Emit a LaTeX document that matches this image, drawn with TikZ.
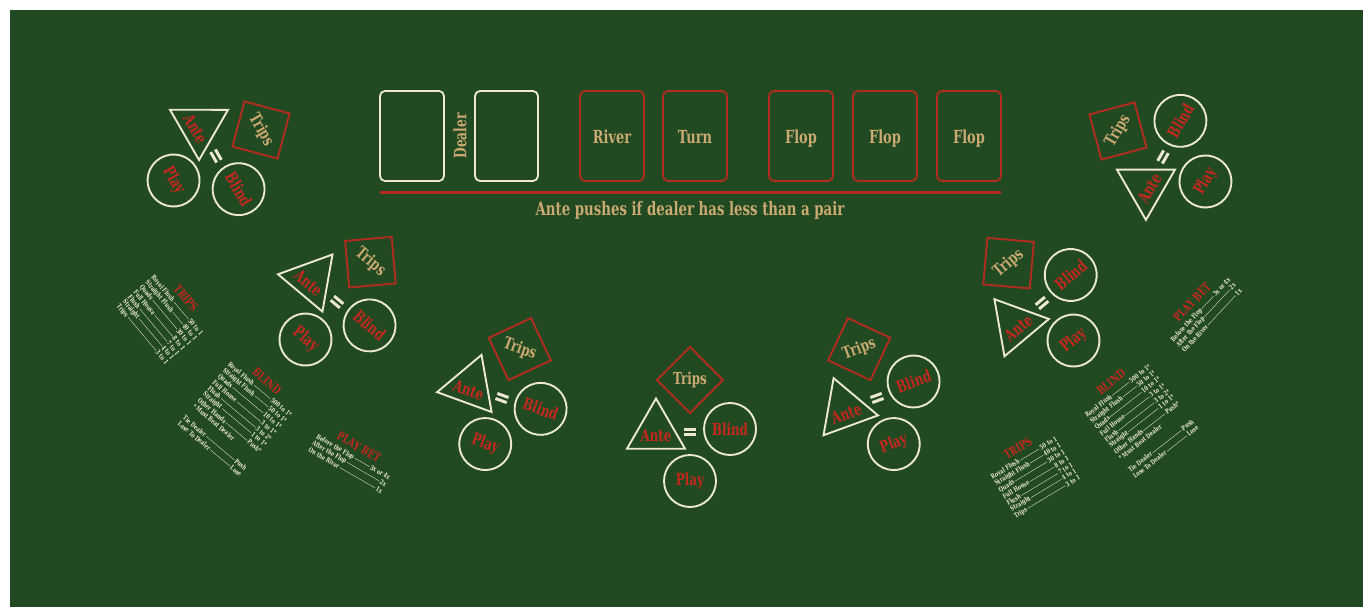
\documentclass[tikz,border=0pt]{standalone}
\usepackage{fontspec}
\newfontfamily\slab{DejaVu Serif}[FakeStretch=0.72]
\definecolor{felt}{RGB}{33,73,34}
\definecolor{rd}{RGB}{178,44,30}
\definecolor{rtext}{RGB}{196,40,28}
\definecolor{tanc}{RGB}{202,170,112}
\definecolor{cream}{RGB}{236,232,212}
\newcommand\prow[3]{\hbox to #1{#2\,\leaders\hrule height 2.3pt depth -1.95pt\hfill\,#3}}
\tikzset{
  cline/.style={draw=cream, line width=1.9pt},
  rline/.style={draw=rd, line width=1.9pt},
  rlbl/.style={font=\slab\bfseries\fontsize{16.5}{16.5}\selectfont, text=rtext, inner sep=0},
  tlbl/.style={font=\slab\bfseries\fontsize{16.5}{16.5}\selectfont, text=tanc, inner sep=0},
  cardlbl/.style={font=\slab\bfseries\fontsize{18}{18}\selectfont, text=tanc, inner sep=0, anchor=base},
  ttl/.style={font=\slab\bfseries\fontsize{12}{12}\selectfont, text=rtext, inner sep=0},
  prw/.style={font=\slab\bfseries\fontsize{6.8}{6.8}\selectfont, text=cream, inner sep=0},
  cardw/.style={draw=cream, line width=1.8pt, rounded corners=5pt},
  cardr/.style={draw=rd, line width=1.8pt, rounded corners=5pt},
}
\newcommand\seatat[4]{%
  \begin{scope}[shift={(#2,#3)}, rotate=-#4, transform shape]
    \draw[rline] (0,-85) -- (33,-52) -- (0,-19) -- (-33,-52) -- cycle;
    \node[tlbl] (#1trips) at (0,-52) {Trips};
    \draw[cline] (-34,-33.5) -- (-5,16.7) -- (-63,16.7) -- cycle;
    \node[rlbl] (#1ante) at (-34,4) {Ante};
    \fill[cream] (-6,-4.2) rectangle (6,-1.2);
    \fill[cream] (-6,1.2) rectangle (6,4.2);
    \draw[cline] (40,-3) circle[radius=26pt];
    \node[rlbl] (#1blind) at (40,-3) {Blind};
    \draw[cline] (0,49) circle[radius=26pt];
    \node[rlbl] (#1play) at (0,49) {Play};
  \end{scope}}
\newcommand\tripstable[5]{% prefix, x, y, angle, width
  \begin{scope}[shift={(#2,#3)}, rotate=#4, transform shape]
    \node[ttl] (#1t) at (0,0) {TRIPS};
    \foreach \a/\b [count=\i] in {Royal Flush/50 to 1, Straight Flush/40 to 1, Quads/30 to 1, Full House/8 to 1, Flush/7 to 1, Straight/4 to 1, Trips/3 to 1}
      \node[prw] (#1r\i) at (0,{4.5+7.5*\i}) {\prow{#5}{\a}{\b}};
  \end{scope}}
\newcommand\blindtable[5]{%
  \begin{scope}[shift={(#2,#3)}, rotate=#4, transform shape]
    \node[ttl] (#1t) at (0,0) {BLIND};
    \foreach \a/\b [count=\i] in {Royal Flush/500 to 1*, Straight Flush/50 to 1*, Quads/10 to 1*, Full House/3 to 1*, Flush/3 to 2*, Straight/1 to 1*, Other Hands/Push*}
      \node[prw] (#1r\i) at (0,{4+7.7*\i}) {\prow{#5}{\a}{\b}};
    \node[prw] (#1r8) at (0,{4+7.7*8}) {\hbox to #5{* Must Beat Dealer\hfil}};
    \node[prw] (#1r9) at (0,{4+7.7*10}) {\prow{#5}{Tie Dealer}{Push}};
    \node[prw] (#1r10) at (0,{4+7.7*11}) {\prow{#5}{Lose To Dealer}{Lose}};
  \end{scope}}
\newcommand\playtable[5]{%
  \begin{scope}[shift={(#2,#3)}, rotate=#4, transform shape]
    \node[ttl] (#1t) at (0,0) {PLAY BET};
    \foreach \a/\b [count=\i] in {Before the Flop/3x or 4x, After the Flop/2x, On the River/1x}
      \node[prw] (#1r\i) at (0,{4.5+7.5*\i}) {\prow{#5}{\a}{\b}};
  \end{scope}}
\begin{document}
\begin{tikzpicture}[x=1pt, y=-1pt]
  \useasboundingbox (0,0) rectangle (1363,607);
  \fill[white] (0,0) rectangle (1363,607);
  \fill[felt] (10,10) rectangle (1363,607);
  % dealer cards
  \draw[cardw] (380,91) rectangle (444,181);
  \node[tlbl, font=\slab\bfseries\fontsize{17}{17}\selectfont, rotate=90] (dealer) at (460,136) {Dealer};
  \draw[cardw] (475,91) rectangle (538,181);
  \draw[cardr] (580,91) rectangle (644,181);
  \node[cardlbl] (river) at (612,143) {River};
  \draw[cardr] (663,91) rectangle (727,181);
  \node[cardlbl] (turn) at (695,143) {Turn};
  \draw[cardr] (769,91) rectangle (833,181);
  \node[cardlbl] (flop1) at (801,143) {Flop};
  \draw[cardr] (853,91) rectangle (917,181);
  \node[cardlbl] (flop2) at (885,143) {Flop};
  \draw[cardr] (937,91) rectangle (1001,181);
  \node[cardlbl] (flop3) at (969,143) {Flop};
  \coordinate (lineL) at (380,192);
  \coordinate (lineR) at (1001,192);
  \draw[draw=rd, line width=3pt] (lineL) -- (lineR);
  \node[cardlbl, font=\slab\bfseries\fontsize{18.5}{18.5}\selectfont] (rule) at (690,215) {Ante pushes if dealer has less than a pair};
  % seats
  \seatat{sa}{216}{156}{60}
  \seatat{sb}{337}{302}{40}
  \seatat{sc}{502}{398}{20}
  \seatat{sd}{690}{432}{0}
  \seatat{se}{877}{398}{-20}
  \seatat{sf}{1042}{303}{-40}
  \seatat{sg}{1163}{157}{-60}
  % pay tables
  \tripstable{lT}{186}{298}{-50}{76pt}
  \blindtable{lB}{267}{381}{-40}{81pt}
  \playtable{lP}{359}{447}{-30}{84pt}
  \playtable{rP}{1192}{302}{47}{84pt}
  \blindtable{rB}{1111}{382}{38}{81pt}
  \tripstable{rT}{1018}{448}{31}{76pt}
\end{tikzpicture}
\end{document}
